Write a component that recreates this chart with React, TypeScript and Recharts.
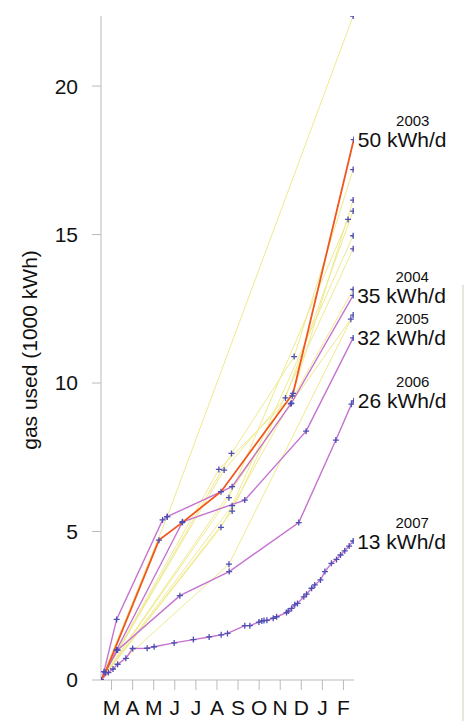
import React from 'react';
import { LineChart, Line, XAxis, YAxis, LabelList } from 'recharts';

const MONTHS = ['M', 'A', 'M', 'J', 'J', 'A', 'S', 'O', 'N', 'D', 'J', 'F'];
const MONTH_TICKS = [0.5, 1.5, 2.5, 3.5, 4.5, 5.5, 6.5, 7.5, 8.5, 9.5, 10.5, 11.5];
const Y_TICKS = [0, 5, 10, 15, 20];

// 2003 (orange)
const m2003 = [0, 0.2, 2.75, 3.85, 5.69, 9.11, 11.99];
const v2003 = [0, 0.25, 4.71, 5.3, 6.34, 9.65, 18.2];
// 2004
const m2004 = [0, 0.14, 0.74, 2.92, 3.14, 6.22, 9.03, 11.96];
const v2004 = [0, 0.28, 2.04, 5.39, 5.5, 6.51, 9.32, 12.95];
// 2005
const m2005 = [0, 0.74, 3.87, 6.82, 9.73, 11.96];
const v2005 = [0, 1.01, 5.33, 6.06, 8.38, 11.52];
// 2006
const m2006 = [0, 0.79, 3.74, 6.08, 9.38, 11.14, 11.88, 11.99];
const v2006 = [0, 1.01, 2.84, 3.65, 5.3, 8.08, 9.29, 9.4];
// 2007
const m2007 = [0, 0.35, 0.57, 0.79, 1.18, 1.5, 2.19, 2.52, 3.47, 4.38, 5.13, 5.7, 6.0, 6.82, 7.06, 7.49, 7.63, 7.73, 7.87, 8.17, 8.33, 8.8, 8.88, 9.04, 9.19, 9.32, 9.62, 9.75, 9.99, 10.14, 10.41, 10.62, 10.93, 11.17, 11.36, 11.56, 11.77, 11.96];
const v2007 = [0, 0.25, 0.37, 0.53, 0.73, 1.06, 1.07, 1.12, 1.25, 1.36, 1.45, 1.52, 1.57, 1.83, 1.83, 1.95, 1.99, 2.0, 2.01, 2.08, 2.13, 2.27, 2.32, 2.41, 2.53, 2.58, 2.8, 2.89, 3.09, 3.2, 3.37, 3.65, 3.93, 4.06, 4.21, 4.35, 4.51, 4.68];

// earlier years (thin yellow)
const mEarlyA = [0, 3.14, 11.96];
const vEarlyA = [0, 5.5, 22.36];
const mEarlyB = [0, 6.19, 9.16, 11.96];
const vEarlyB = [0, 7.63, 10.89, 17.19];
const mEarlyC = [0, 5.59, 9.07, 11.96];
const vEarlyC = [0, 7.09, 9.57, 16.16];
const mEarlyD = [0, 5.84, 8.75, 11.96];
const vEarlyD = [0, 7.07, 9.5, 15.79];
const mEarlyE = [0, 6.07, 11.72];
const vEarlyE = [0, 6.14, 15.51];
const mEarlyF = [0, 6.22, 11.96];
const vEarlyF = [0, 5.87, 14.96];
const mEarlyG = [0, 6.22, 11.96];
const vEarlyG = [0, 5.69, 14.52];
const mEarlyH = [0, 5.69, 11.96];
const vEarlyH = [0, 5.14, 13.15];
const mEarlyI = [0, 6.07, 11.96];
const vEarlyI = [0, 3.9, 12.29];
const mEarlyJ = [0, 9.0, 11.85];
const vEarlyJ = [0, 9.3, 12.15];

const zip = (ms: number[], vs: number[]) => ms.map((m, i) => ({ m, v: vs[i] }));

const FONT = '"Liberation Sans", Arial, Helvetica, sans-serif';
const YELLOW = '#efe98e';
const PURPLE = '#c672cf';
const ORANGE = '#f0561e';
const MARK = '#4d4db3';

const early = [
  zip(mEarlyA, vEarlyA), zip(mEarlyB, vEarlyB), zip(mEarlyC, vEarlyC), zip(mEarlyD, vEarlyD),
  zip(mEarlyE, vEarlyE), zip(mEarlyF, vEarlyF), zip(mEarlyG, vEarlyG), zip(mEarlyH, vEarlyH),
  zip(mEarlyI, vEarlyI), zip(mEarlyJ, vEarlyJ),
];

const labelled = [
  { year: '2007', rate: '13 kWh/d', data: zip(m2007, v2007), color: PURPLE, w: 1.4 },
  { year: '2006', rate: '26 kWh/d', data: zip(m2006, v2006), color: PURPLE, w: 1.4 },
  { year: '2005', rate: '32 kWh/d', data: zip(m2005, v2005), color: PURPLE, w: 1.4 },
  { year: '2004', rate: '35 kWh/d', data: zip(m2004, v2004), color: PURPLE, w: 1.4 },
  { year: '2003', rate: '50 kWh/d', data: zip(m2003, v2003), color: ORANGE, w: 1.8 },
];

const plusDot = (props: any) => {
  const { cx, cy, index } = props;
  if (cx == null || cy == null) return <g key={`d${index}`} />;
  return (
    <path
      key={`d${index}`}
      d={`M${cx - 3},${cy}H${cx + 3}M${cx},${cy - 3}V${cy + 3}`}
      stroke={MARK}
      strokeWidth={1.3}
      fill="none"
    />
  );
};

const endLabel = (len: number, year: string, rate: string) => (props: any) => {
  const { x, y, index } = props;
  if (index !== len - 1) return null;
  return (
    <g key="endlabel">
      <text x={x + 4} y={y + 7.5} fontSize={21} fill="#111" fontFamily={FONT}>{rate}</text>
      <text x={x + 59} y={y - 13.5} fontSize={15} fill="#111" textAnchor="middle" fontFamily={FONT}>{year}</text>
    </g>
  );
};

const yLabel = (props: any) => {
  const vb = props.viewBox || { x: 0, y: 16, width: 101, height: 664 };
  const cx = vb.x + 37;
  const cy = vb.y + vb.height / 2 + 2;
  return (
    <text x={cx} y={cy} transform={`rotate(-90, ${cx}, ${cy})`} textAnchor="middle" fontSize={21} fill="#111" fontFamily={FONT}>
      gas used (1000 kWh)
    </text>
  );
};

export default function App() {
  return (
    <div style={{ position: 'absolute', left: 0, top: 0, width: 466, height: 721, background: '#fff', fontFamily: FONT }}>
      <LineChart width={466} height={721} margin={{ top: 16, right: 112, bottom: 0, left: 0 }}>
        <XAxis
          type="number"
          dataKey="m"
          domain={[0, 12]}
          ticks={MONTH_TICKS}
          interval={0}
          tickFormatter={(t: number) => MONTHS[Math.round(t - 0.5)]}
          height={41}
          tickSize={10}
          tickMargin={10}
          axisLine={{ stroke: '#bbb' }}
          tickLine={{ stroke: '#bbb' }}
          tick={{ fontSize: 21, fill: '#111', fontFamily: FONT }}
          allowDataOverflow
        />
        <YAxis
          type="number"
          domain={[0, 22.36]}
          ticks={Y_TICKS}
          interval={0}
          width={101}
          tickSize={9}
          tickMargin={14}
          axisLine={{ stroke: '#bbb' }}
          tickLine={{ stroke: '#bbb' }}
          tick={{ fontSize: 21, fill: '#111', fontFamily: FONT }}
          allowDataOverflow
          label={yLabel}
        />
        {early.map((d, i) => (
          <Line
            key={`e${i}`}
            data={d}
            dataKey="v"
            type="linear"
            stroke={YELLOW}
            strokeWidth={1}
            dot={plusDot}
            activeDot={false}
            isAnimationActive={false}
          />
        ))}
        {labelled.map((s) => (
          <Line
            key={s.year}
            data={s.data}
            dataKey="v"
            type="linear"
            stroke={s.color}
            strokeWidth={s.w}
            dot={plusDot}
            activeDot={false}
            isAnimationActive={false}
          >
            <LabelList dataKey="v" content={endLabel(s.data.length, s.year, s.rate)} />
          </Line>
        ))}
      </LineChart>
      <div style={{ position: 'absolute', left: 462, top: 285, width: 1.5, height: 436, background: '#e3e8da' }} />
    </div>
  );
}
